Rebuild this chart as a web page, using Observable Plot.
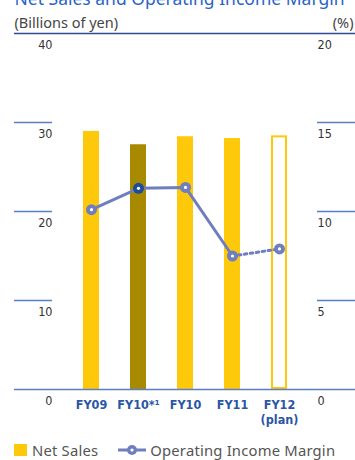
<!DOCTYPE html>
<html><head><meta charset="utf-8">
<script src="https://cdn.jsdelivr.net/npm/d3@7"></script>
<script src="https://cdn.jsdelivr.net/npm/@observablehq/plot@0.6"></script>
<style>
html,body{margin:0;padding:0;background:#fff;overflow:hidden;}
#wrap{position:relative;width:355px;height:460px;}
#legend{position:absolute;left:14px;top:442px;height:16px;font-family:'Noto Sans',sans-serif;font-size:14.8px;line-height:16px;letter-spacing:0.2px;color:#555;display:flex;align-items:center;white-space:nowrap;}
#legend .sq{display:inline-block;width:13px;height:12px;background:#ffc90b;margin-right:5px;}
#legend svg{margin-left:20px;margin-right:4px;}
</style></head>
<body><div id="wrap"><div id="chart"></div>
<div id="legend"><span class="sq"></span><span>Net Sales</span>
<svg width="28" height="12"><line x1="0" y1="6" x2="28" y2="6" stroke="#6f7ebf" stroke-width="3"/><circle cx="14" cy="6" r="5" fill="#6f7ebf"/><circle cx="14" cy="6" r="1.6" fill="#fff"/></svg><span>Operating Income Margin</span></div>
</div>
<script>
const categories = ["FY09", "FY10*1", "FY10", "FY11", "FY12"];
const labels = ["FY09", "FY10*¹", "FY10", "FY11", "FY12\n(plan)"];
const netSales = [29.0, 27.5, 28.4, 28.2, 28.5];
const opMargin = [10.1, 11.3, 11.35, 7.5, 7.9];
const kinds = ["actual", "restated", "actual", "actual", "plan"];
const leftTicks = [0, 10, 20, 30, 40];
const rightTicks = [0, 5, 10, 15, 20];

const data = categories.map((c, i) => ({cat: c, label: labels[i], sales: netSales[i], margin: opMargin[i], kind: kinds[i]}));
const yR = d => d.margin * 2; // right axis (0–20%) mapped onto left (0–40)

const yellow = "#ffc90b", olive = "#a88a00", lineC = "#6f7ebf", navy = "#1d4c9a", gridC = "#5a7ec8";
const condensed = "'DejaVu Sans Condensed', 'DejaVu Sans', sans-serif";
const mL = 66.4, mR = 52.4;

const chart = Plot.plot({
  width: 355, height: 435,
  marginTop: 33, marginBottom: 46, marginLeft: mL, marginRight: mR,
  x: {domain: categories, paddingInner: 0.66, paddingOuter: 0.33, align: 0.5, axis: null},
  y: {domain: [0, 40], axis: null},
  style: {overflow: "visible", background: "transparent"},
  marks: [
    // title & units
    Plot.text(["Net Sales and Operating Income Margin"], {text: d => d, frameAnchor: "top-left", dx: 14 - mL, dy: -29, lineAnchor: "bottom", textAnchor: "start", fontSize: 17.5, fill: "#2a64c6", fontFamily: "'Noto Sans', sans-serif"}),
    Plot.text(["(Billions of yen)"], {text: d => d, frameAnchor: "top-left", dx: 14 - mL, dy: -6, lineAnchor: "bottom", textAnchor: "start", fontSize: 14.5, fill: "#444", fontFamily: "'Noto Sans', sans-serif"}),
    Plot.text(["(%)"], {text: d => d, frameAnchor: "top-right", dx: mR - 2, dy: -6, lineAnchor: "bottom", textAnchor: "end", fontSize: 14.5, fill: "#444", fontFamily: "'Noto Sans', sans-serif"}),
    // grid
    Plot.ruleY([10, 20, 30], {stroke: gridC, strokeWidth: 1.5, insetLeft: -(mL - 14), insetRight: (355 - mR) - 52}),
    Plot.ruleY([10, 20, 30], {stroke: gridC, strokeWidth: 1.5, insetLeft: 317 - mL, insetRight: -(mR)}),
    Plot.ruleY([40], {stroke: "#2b4c95", strokeWidth: 1.5, insetLeft: -(mL - 14), insetRight: -mR}),
    // bars
    Plot.barY(data.filter(d => d.kind === "actual"), {x: "cat", y: "sales", fill: yellow}),
    Plot.barY(data.filter(d => d.kind === "restated"), {x: "cat", y: "sales", fill: olive}),
    Plot.barY(data.filter(d => d.kind === "plan"), {x: "cat", y: "sales", fill: "#fff", stroke: yellow, strokeWidth: 2, inset: 1}),
    Plot.ruleY([0], {stroke: gridC, strokeWidth: 1.5, insetLeft: -(mL - 14), insetRight: -mR}),
    // tick labels
    Plot.text(leftTicks, {y: d => d, text: d => String(d), frameAnchor: "left", dx: 52 - mL, dy: 11.5, textAnchor: "end", fontSize: 12.5, fill: "#333", fontFamily: condensed}),
    Plot.text(rightTicks, {y: d => d * 2, text: d => String(d), frameAnchor: "right", dx: 317 - (355 - mR), dy: 11.5, textAnchor: "start", fontSize: 12.5, fill: "#333", fontFamily: condensed}),
    Plot.text(data, {x: "cat", text: "label", frameAnchor: "bottom", dy: 8, lineAnchor: "top", lineHeight: 1.25, fontSize: 12.5, fontWeight: "bold", fill: "#2b55a6", fontFamily: condensed}),
    // margin line
    Plot.line(data.slice(0, 4), {x: "cat", y: yR, stroke: lineC, strokeWidth: 3}),
    Plot.line(data.slice(3), {x: "cat", y: yR, stroke: lineC, strokeWidth: 3, strokeDasharray: "2.5,3.5"}),
    Plot.dot(data.filter(d => d.kind !== "restated"), {x: "cat", y: yR, r: 5.5, fill: lineC}),
    Plot.dot(data.filter(d => d.kind === "restated"), {x: "cat", y: yR, r: 5.5, fill: navy}),
    Plot.dot(data, {x: "cat", y: yR, r: 1.6, fill: "#fff"})
  ]
});
document.getElementById("chart").appendChild(chart);
</script>
</body></html>
